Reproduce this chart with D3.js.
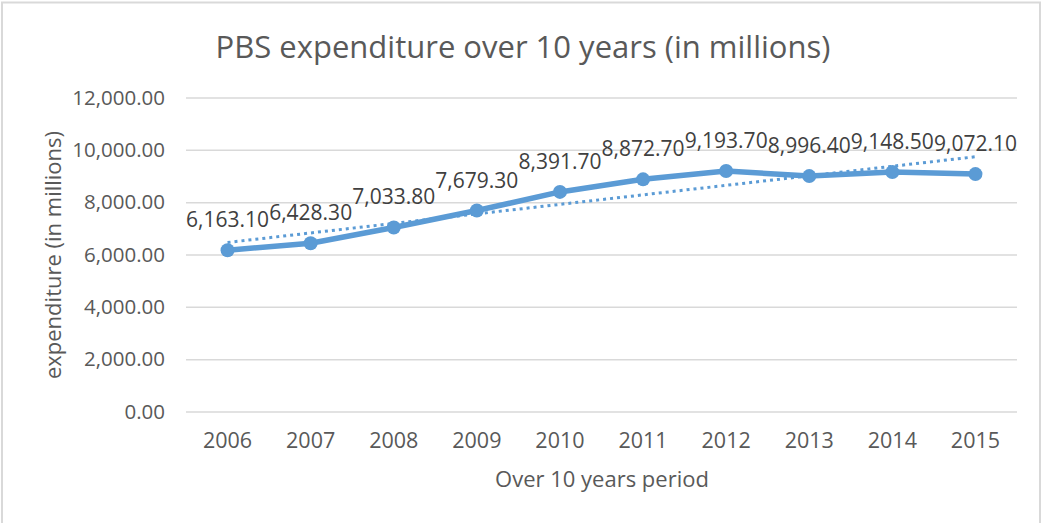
<!DOCTYPE html>
<html><head>
<meta charset="utf-8">
<title>PBS expenditure</title>
<script src="https://d3js.org/d3.v7.min.js"></script>
<style>
  body { margin: 0; background: #fff; }
  text { font-family: "Open Sans", sans-serif; }
</style>
</head>
<body>
<svg id="chart" width="1044" height="523"></svg>
<script>
  // data
  const years = ["2006","2007","2008","2009","2010","2011","2012","2013","2014","2015"];
  const expenditure = [6163.1, 6428.3, 7033.8, 7679.3, 8391.7, 8872.7, 9193.7, 8996.4, 9148.5, 9072.1];
  const yTicks = [0, 2000, 4000, 6000, 8000, 10000, 12000];

  const svg = d3.select("#chart");
  const margin = { top: 97.5, right: 27, bottom: 111.5, left: 186 };
  const width = 1044, height = 523;

  // chart frame
  svg.append("rect")
     .attr("x", 2).attr("y", 2.5)
     .attr("width", 1038).attr("height", 540)
     .attr("fill", "none").attr("stroke", "#d9d9d9").attr("stroke-width", 2);

  const x = d3.scaleBand().domain(years).range([margin.left, width - margin.right]);
  const y = d3.scaleLinear().domain([0, 12000]).range([height - margin.bottom, margin.top]);

  // gridlines + y labels
  const yAxis = d3.axisLeft(y).tickValues(yTicks)
                  .tickSize(-(width - margin.left - margin.right))
                  .tickPadding(21)
                  .tickFormat(d3.format(",.2f"));
  const gy = svg.append("g").attr("transform", "translate(" + margin.left + ",0)").call(yAxis);
  gy.select(".domain").remove();
  gy.selectAll("line").attr("stroke", "#d9d9d9").attr("stroke-width", 1.5);
  gy.selectAll("text").attr("fill", "#595959").style("font-size", "20.5px");

  const xAxis = d3.axisBottom(x).tickSize(0).tickPadding(21);
  const gx = svg.append("g").attr("transform", "translate(0," + (height - margin.bottom) + ")").call(xAxis);
  gx.select(".domain").remove();
  gx.selectAll("text").attr("fill", "#595959").style("font-size", "21.5px");

  // linear trendline (least squares)
  const n = expenditure.length;
  const mx = d3.mean(d3.range(n)), my = d3.mean(expenditure);
  const slope = d3.sum(expenditure, (v, i) => (i - mx) * (v - my)) / d3.sum(d3.range(n), i => (i - mx) * (i - mx));
  const icept = my - slope * mx;
  const cx = d => x(d) + x.bandwidth() / 2;

  svg.append("line")
     .attr("x1", cx(years[0])).attr("y1", y(icept))
     .attr("x2", cx(years[n-1])).attr("y2", y(icept + slope * (n - 1)))
     .attr("stroke", "#5b9bd5").attr("stroke-width", 3)
     .attr("stroke-dasharray", "3,4");

  const line = d3.line().x((v, i) => cx(years[i])).y(v => y(v));
  svg.append("path").datum(expenditure)
     .attr("d", line).attr("fill", "none")
     .attr("stroke", "#5b9bd5").attr("stroke-width", 5.5)
     .attr("stroke-linejoin", "round");

  svg.selectAll("circle.pt").data(expenditure).join("circle")
     .attr("class", "pt")
     .attr("cx", (v, i) => cx(years[i])).attr("cy", v => y(v))
     .attr("r", 7).attr("fill", "#5b9bd5");

  svg.selectAll("text.lbl").data(expenditure).join("text")
     .attr("class", "lbl")
     .attr("x", (v, i) => cx(years[i])).attr("y", v => y(v) - 23)
     .attr("text-anchor", "middle")
     .attr("fill", "#404040").style("font-size", "21px")
     .text(d3.format(",.2f"));

  // titles
  svg.append("text").attr("x", 523).attr("y", 58).attr("text-anchor", "middle")
     .attr("fill", "#595959").style("font-size", "31px")
     .text("PBS expenditure over 10 years (in millions)");

  svg.append("text").attr("x", 602).attr("y", 487).attr("text-anchor", "middle")
     .attr("fill", "#595959").style("font-size", "22px")
     .text("Over 10 years period");

  svg.append("text").attr("transform", "translate(61,255) rotate(-90)")
     .attr("text-anchor", "middle")
     .attr("fill", "#595959").style("font-size", "22px")
     .text("expenditure (in millions)");
</script>
</body>
</html>
